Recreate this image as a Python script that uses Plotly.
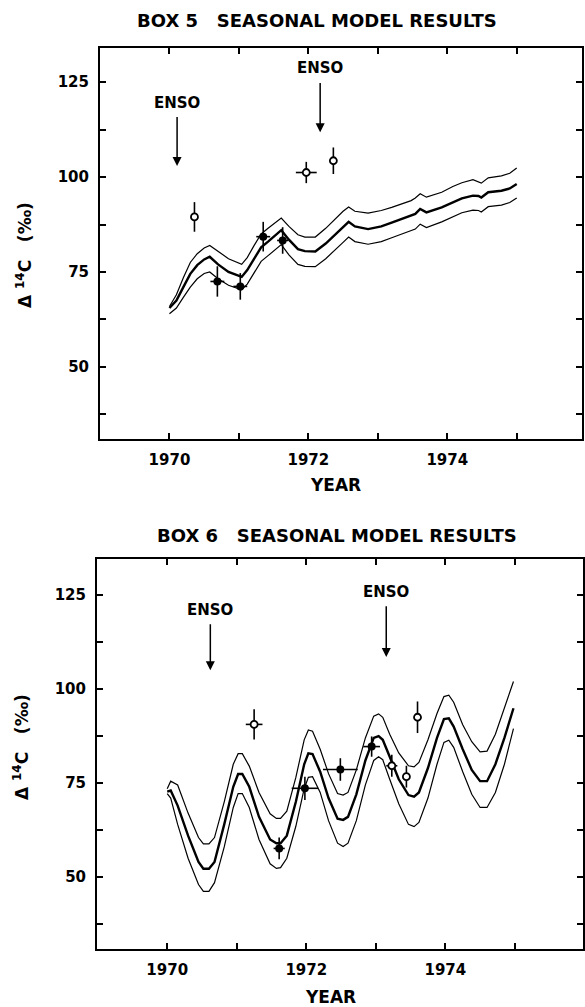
import plotly.graph_objects as go

# ---------------- Data: Box 5 ----------------
b5_years = [1970.00, 1970.10, 1970.20, 1970.30, 1970.40, 1970.50, 1970.58, 1970.70, 1970.85, 1971.04,
            1971.12, 1971.22, 1971.32, 1971.42, 1971.52, 1971.61, 1971.72, 1971.85, 1971.95, 1972.10,
            1972.25, 1972.38, 1972.50, 1972.58, 1972.67, 1972.86, 1973.05, 1973.20, 1973.34, 1973.48,
            1973.54, 1973.61, 1973.70, 1973.92, 1974.08, 1974.21, 1974.37, 1974.45, 1974.49, 1974.59,
            1974.78, 1974.90, 1975.00]
b5_mid = [65.5, 67.5, 71.0, 74.5, 76.8, 78.3, 79.0, 77.0, 75.0, 73.7,
          75.5, 78.5, 81.5, 83.0, 84.5, 86.0, 83.5, 81.0, 80.5, 80.4,
          82.5, 84.6, 86.8, 88.2, 87.0, 86.3, 87.0, 88.0, 88.9, 89.8,
          90.3, 91.6, 90.7, 92.0, 93.3, 94.4, 95.1, 95.0, 94.6, 96.0,
          96.4, 97.0, 98.2]
b5_upper = [65.9, 69.0, 73.5, 77.5, 79.8, 81.3, 82.0, 80.5, 78.5, 77.0,
            78.8, 82.0, 85.0, 86.5, 88.0, 89.2, 87.0, 84.8, 84.2, 84.2,
            86.5, 88.8, 91.0, 92.1, 91.0, 90.5, 91.2, 92.0, 93.0, 93.8,
            94.5, 95.6, 94.7, 96.0, 97.5, 98.5, 99.3, 98.8, 98.4, 99.8,
            100.3, 101.0, 102.4]
b5_lower = [64.0, 65.5, 68.3, 71.0, 73.2, 74.6, 75.0, 73.2, 71.5, 70.3,
            71.8, 74.8, 77.8, 79.3, 80.8, 82.2, 79.5, 77.0, 76.5, 76.4,
            78.5, 80.6, 82.8, 84.2, 83.0, 82.3, 83.0, 84.0, 85.0, 85.8,
            86.3, 87.6, 86.7, 88.2, 89.6, 90.6, 91.3, 91.2, 90.8, 92.2,
            92.6, 93.3, 94.5]

b5_filled_x = [1970.69, 1971.02, 1971.35, 1971.63]
b5_filled_y = [72.5, 71.2, 84.3, 83.3]
b5_filled_ey = [4.0, 3.5, 3.9, 3.5]
b5_filled_ex = [0.10, 0.10, 0.10, 0.08]

b5_open_x = [1970.36, 1971.97, 1972.36]
b5_open_y = [89.5, 101.2, 104.3]
b5_open_ey = [3.9, 2.8, 3.5]
b5_open_ex = [0.0, 0.15, 0.05]

b5_enso_x = [1970.11, 1972.17]
b5_enso_tip = [102.9, 111.8]
b5_enso_text_y = [119.7, 128.7]

# ---------------- Data: Box 6 ----------------
b6_years = [1970.00, 1970.05, 1970.15, 1970.30, 1970.45, 1970.52, 1970.60, 1970.68, 1970.82, 1970.95,
            1971.02, 1971.08, 1971.18, 1971.32, 1971.48, 1971.57, 1971.63, 1971.72, 1971.85, 1971.97,
            1972.03, 1972.09, 1972.20, 1972.32, 1972.45, 1972.53, 1972.60, 1972.72, 1972.85, 1972.97,
            1973.04, 1973.10, 1973.20, 1973.33, 1973.47, 1973.55, 1973.62, 1973.75, 1973.88, 1973.98,
            1974.05, 1974.12, 1974.25, 1974.38, 1974.50, 1974.60, 1974.72, 1974.85, 1974.98]
b6_mid = [72.7, 73.0, 69.0, 61.0, 54.0, 52.2, 52.2, 54.0, 64.0, 74.0,
          77.4, 77.4, 74.0, 66.0, 60.0, 59.0, 59.0, 61.0, 70.0, 80.0,
          82.9, 82.7, 78.0, 71.0, 65.5, 65.2, 66.0, 72.0, 81.0, 87.0,
          87.5, 86.5, 82.0, 76.0, 71.8, 71.4, 72.5, 79.0, 87.0, 92.0,
          92.2, 90.0, 84.0, 78.5, 75.5, 75.5, 80.0, 87.0, 94.9]
b6_upper = [73.5, 75.5, 74.5, 67.0, 60.5, 58.8, 58.8, 60.5, 70.0, 80.0,
            82.8, 82.8, 79.5, 72.5, 66.8, 65.6, 65.6, 67.5, 76.5, 86.5,
            89.1, 88.8, 84.0, 77.5, 72.2, 71.8, 72.5, 78.5, 87.0, 92.8,
            93.4, 92.5, 88.0, 83.0, 79.6, 79.3, 80.5, 86.5, 93.5, 98.0,
            98.4, 96.5, 90.5, 86.0, 83.3, 83.5, 88.0, 95.0, 102.0]
b6_lower = [72.2, 71.0, 64.0, 55.0, 48.0, 46.2, 46.2, 48.5, 58.0, 68.5,
            72.2, 72.2, 68.5, 60.0, 53.5, 52.3, 52.5, 55.0, 63.5, 73.5,
            76.5, 76.7, 72.5, 65.0, 59.0, 58.1, 59.0, 65.0, 74.5, 81.0,
            82.0, 81.2, 76.0, 69.5, 64.0, 63.4, 64.5, 71.0, 80.0, 85.8,
            86.4, 84.5, 78.0, 72.0, 68.5, 68.5, 72.5, 80.0, 89.5]

b6_filled_x = [1971.61, 1971.98, 1972.49, 1972.94]
b6_filled_y = [57.6, 73.6, 78.6, 84.7]
b6_filled_ey = [2.9, 3.1, 3.0, 2.7]
b6_filled_ex = [0.08, 0.19, 0.25, 0.12]

b6_open_x = [1971.25, 1973.23, 1973.44, 1973.60]
b6_open_y = [90.6, 79.6, 76.7, 92.5]
b6_open_ey = [4.0, 2.9, 2.9, 4.2]
b6_open_ex = [0.12, 0.08, 0.05, 0.0]

b6_enso_x = [1970.62, 1973.15]
b6_enso_tip = [105.0, 108.5]
b6_enso_text_y = [121.0, 125.8]

# ---------------- Tick labels ----------------
x_tickvals = [1970, 1972, 1974]
x_ticktext = ["1970", "1972", "1974"]
y_tickvals = [50, 75, 100, 125]
y_ticktext = ["50", "75", "100", "125"]
x_minor_step = 1.0
y_minor_step = 12.5

W, H = 585, 1007
FONT = "DejaVu Sans"

fig = go.Figure()


def add_panel(xa, ya, years, mid, up, lo, fx, fy, fex, fey, ox, oy, oex, oey):
    for arr, w in ((up, 1.2), (lo, 1.2), (mid, 2.4)):
        fig.add_trace(go.Scatter(x=years, y=arr, mode="lines", xaxis=xa, yaxis=ya,
                                 line=dict(color="black", width=w), showlegend=False,
                                 hoverinfo="skip"))
    fig.add_trace(go.Scatter(x=fx, y=fy, mode="markers", xaxis=xa, yaxis=ya,
                             marker=dict(symbol="circle", size=8, color="black"),
                             error_y=dict(type="data", array=fey, color="black", thickness=1.6, width=0),
                             error_x=dict(type="data", array=fex, color="black", thickness=1.6, width=0),
                             showlegend=False))
    fig.add_trace(go.Scatter(x=ox, y=oy, mode="markers", xaxis=xa, yaxis=ya,
                             marker=dict(symbol="circle", size=7, color="white",
                                         line=dict(color="black", width=1.8)),
                             error_y=dict(type="data", array=oey, color="black", thickness=1.6, width=0),
                             error_x=dict(type="data", array=oex, color="black", thickness=1.6, width=0),
                             showlegend=False))


add_panel("x", "y", b5_years, b5_mid, b5_upper, b5_lower,
          b5_filled_x, b5_filled_y, b5_filled_ex, b5_filled_ey,
          b5_open_x, b5_open_y, b5_open_ex, b5_open_ey)
add_panel("x2", "y2", b6_years, b6_mid, b6_upper, b6_lower,
          b6_filled_x, b6_filled_y, b6_filled_ex, b6_filled_ey,
          b6_open_x, b6_open_y, b6_open_ex, b6_open_ey)

axis_common = dict(showline=True, linecolor="black", linewidth=2, mirror="ticks",
                   ticks="inside", ticklen=6, tickwidth=1.5, tickcolor="black",
                   showgrid=False, zeroline=False, fixedrange=True, ticklabelstandoff=6,
                   tickfont=dict(family=FONT, size=15, color="black", weight="bold"))


def minor(step, t0):
    return dict(ticks="inside", ticklen=6, tickwidth=1.5, tickcolor="black",
                dtick=step, tick0=t0, showgrid=False)


fig.update_layout(
    width=W, height=H, autosize=False,
    margin=dict(l=0, r=0, t=0, b=0),
    paper_bgcolor="white", plot_bgcolor="white",
    xaxis=dict(domain=[100 / W, 582 / W], range=[1969.0, 1975.94], anchor="y",
               tickvals=x_tickvals, ticktext=x_ticktext, minor=minor(x_minor_step, 1970), **axis_common),
    yaxis=dict(domain=[1 - 439 / H, 1 - 48 / H], range=[31.0, 134.0], anchor="x",
               tickvals=y_tickvals, ticktext=y_ticktext, minor=minor(y_minor_step, 0), **axis_common),
    xaxis2=dict(domain=[97 / W, 583 / W], range=[1968.99, 1975.98], anchor="y2",
                tickvals=x_tickvals, ticktext=x_ticktext, minor=minor(x_minor_step, 1970), **axis_common),
    yaxis2=dict(domain=[1 - 949 / H, 1 - 559 / H], range=[30.85, 134.6], anchor="x2",
                tickvals=y_tickvals, ticktext=y_ticktext, minor=minor(y_minor_step, 0), **axis_common),
)

ann_font = dict(family=FONT, size=15, color="black", weight="bold")
annotations = []


def paper_text(x, y, text, size=16, angle=0):
    annotations.append(dict(xref="paper", yref="paper", x=x / W, y=1 - y / H, text=text,
                            showarrow=False, textangle=angle, xanchor="center", yanchor="middle",
                            font=dict(family=FONT, size=size, color="black", weight="bold")))


paper_text(317, 20, "BOX 5 &nbsp;&nbsp;SEASONAL MODEL RESULTS", 18)
paper_text(337, 535, "BOX 6 &nbsp;&nbsp;SEASONAL MODEL RESULTS", 18)
paper_text(335, 485, "YEAR", 17)
paper_text(330, 997, "YEAR", 17)
paper_text(24, 255, "Δ <sup>14</sup>C &nbsp;&nbsp;(‰)", 17, -90)
paper_text(21, 747, "Δ <sup>14</sup>C &nbsp;&nbsp;(‰)", 17, -90)

# ENSO labels with arrows: text sits at the arrow tail, arrow points down to the tip
PX_PER_UNIT = 3.78
for xa, ya, xs, tips, tys in (("x", "y", b5_enso_x, b5_enso_tip, b5_enso_text_y),
                              ("x2", "y2", b6_enso_x, b6_enso_tip, b6_enso_text_y)):
    for xv, tip, ty in zip(xs, tips, tys):
        annotations.append(dict(xref=xa, yref=ya, x=xv, y=tip, text="ENSO", showarrow=True,
                                ax=0, ay=-(ty - tip) * PX_PER_UNIT,
                                arrowhead=2, arrowsize=1.2, arrowwidth=1.5,
                                arrowcolor="black", standoff=0, startstandoff=4,
                                font=ann_font))

fig.update_layout(annotations=annotations)

fig.write_html("out.html", config={"displayModeBar": False})
